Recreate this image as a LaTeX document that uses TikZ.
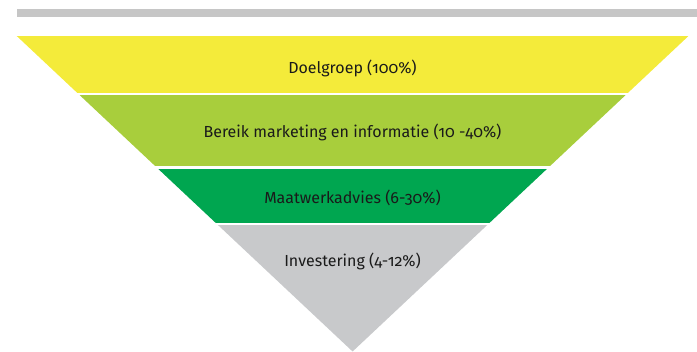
\documentclass[tikz,border=0pt]{standalone}
\usepackage{fontspec}
\setmainfont{Fira Sans}[Numbers=OldStyle]
\usepackage{tikz}
\usepackage{xcolor}
\usetikzlibrary{positioning,calc}
\definecolor{barzgray}{HTML}{C6C6C6}
\definecolor{funyellow}{HTML}{F4EB3A}
\definecolor{funlime}{HTML}{A8CE3C}
\definecolor{fungreen}{HTML}{00A650}
\definecolor{fungray}{HTML}{C8C9CB}
\definecolor{ink}{HTML}{1A1A1A}
\tikzset{
  bandlabel/.style={
    anchor=base, inner sep=0pt, text=ink,
    font=\fontsize{16}{19}\selectfont
  }
}

\begin{document}
\begin{tikzpicture}[x=1pt,y=1pt]
  \useasboundingbox (0,0) rectangle (697,352);
  % top rule
  \fill[barzgray] (16.5,335.3) rectangle (697,343);
  % funnel corners
  \coordinate (topL) at (16.7,316);
  \coordinate (topR) at (688.5,316);
  \coordinate (apex) at (352.6,0.5);
  \begin{scope}
    \clip (topL) -- (topR) -- (apex) -- cycle;
    \fill[funyellow] (0,259.3) rectangle (697,316);
    \fill[funlime]   (0,186)   rectangle (697,256.7);
    \fill[fungreen]  (0,129.3) rectangle (697,183.3);
    \fill[fungray]   (0,0)     rectangle (697,127);
  \end{scope}
  % labels
  \node[bandlabel] (doel)   at (352.5,278)   {Doelgroep (100\%)};
  \node[bandlabel] (bereik) at (352.5,214)   {Bereik marketing en informatie (10 -40\%)};
  \node[bandlabel] (maat)   at (352.5,148.7) {Maatwerkadvies (6-30\%)};
  \node[bandlabel] (invest) at (352.5,85.3)  {Investering (4-12\%)};
\end{tikzpicture}
\end{document}
